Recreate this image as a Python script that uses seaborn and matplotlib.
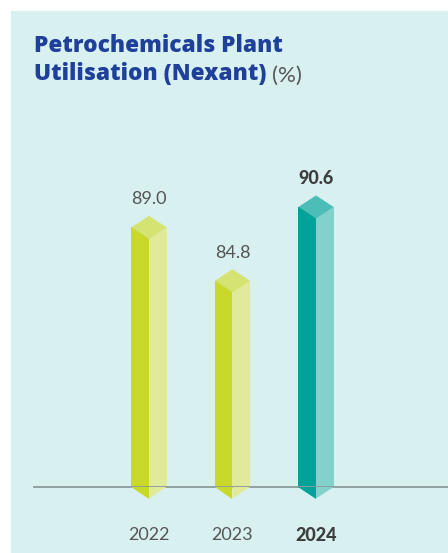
import pandas as pd
import matplotlib
matplotlib.use("Agg")
import matplotlib.pyplot as plt
from matplotlib.patches import Polygon, Rectangle
import seaborn as sns

# Chart data
years = ["2022", "2023", "2024"]
utilisation = [89.0, 84.8, 90.6]
highlight_year = "2024"

# Colours
PANEL_BG = "#d9f0f0"
TITLE_BLUE = "#1e409b"
TEXT_GREY = "#555555"
TEXT_DARK = "#3d3d3d"
LIME = {"left": "#c8d92b", "right": "#e0ea9a", "cap": "#d5e373"}
TEAL = {"left": "#00a29a", "right": "#82d1cd", "cap": "#4dbdb8"}

W, H, DPI = 448, 553, 100

sns.set_theme(style="white")
plt.rcParams["font.family"] = ["Lato", "DejaVu Sans"]

fig = plt.figure(figsize=(W / DPI, H / DPI), dpi=DPI, facecolor="white")
fig.patches.append(Rectangle((11 / W, 0), 1 - 11 / W, 1 - 11 / H,
                             transform=fig.transFigure, facecolor=PANEL_BG,
                             edgecolor="none", zorder=-5))

# axes: baseline at y=487px, left edge at x=34px
ax = fig.add_axes([34 / W, 1 - 487 / H, 1 - 34 / W, (487 - 100) / H])
ax.set_facecolor("none")

# long table: each year drawn as two faces (left dark, right light)
df = pd.DataFrame({
    "year": years * 2,
    "face": ["left"] * len(years) + ["right"] * len(years),
    "value": utilisation * 2,
})

sns.barplot(data=df, x="year", y="value", hue="face", hue_order=["left", "right"],
            order=years, dodge=True, width=0.42, errorbar=None, legend=False,
            palette=["#c8d92b", "#e0ea9a"], linewidth=0, ax=ax)

ax.set_xlim(-1.377, 3.581)
ax.set_ylim(68.6, 99.0)

# pixel -> data conversion for the isometric cap depth
px_per_unit = ax.transData.transform((0, 1))[1] - ax.transData.transform((0, 0))[1]
dh = 11.5 / px_per_unit

faces = {}
for p in list(ax.patches):
    centre = p.get_x() + p.get_width() / 2
    idx = int(round(centre))
    face = "left" if centre < idx else "right"
    pal = TEAL if years[idx] == highlight_year else LIME
    p.set_facecolor(pal[face])
    p.set_edgecolor("none")
    faces[(idx, face)] = p

base = ax.get_ylim()[0]
for idx, year in enumerate(years):
    pal = TEAL if year == highlight_year else LIME
    lp, rp = faces[(idx, "left")], faces[(idx, "right")]
    xl = lp.get_x()
    xc = lp.get_x() + lp.get_width()
    xr = rp.get_x() + rp.get_width()
    top = lp.get_height()
    # top cap
    ax.add_patch(Polygon([(xl, top), (xc, top + dh), (xr, top), (xc, top - dh)],
                         closed=True, facecolor=pal["cap"], edgecolor="none", zorder=3))
    # pointed bottom below the baseline
    ax.add_patch(Polygon([(xl, base), (xc, base), (xc, base - dh)], closed=True,
                         facecolor=pal["left"], edgecolor="none", zorder=3, clip_on=False))
    ax.add_patch(Polygon([(xc, base), (xr, base), (xc, base - dh)], closed=True,
                         facecolor=pal["right"], edgecolor="none", zorder=3, clip_on=False))
    bold = year == highlight_year
    ax.annotate(f"{utilisation[idx]:.1f}", xy=(xc, top), xytext=(0, 16.5),
                textcoords="offset points", ha="center", va="baseline",
                fontsize=13, fontweight="black" if bold else "normal",
                color=TEXT_DARK if bold else TEXT_GREY, zorder=4)

# axis styling
for side in ["top", "right", "left"]:
    ax.spines[side].set_visible(False)
ax.spines["bottom"].set_color("#8a9b9b")
ax.spines["bottom"].set_linewidth(1.3)
ax.set_yticks([])
ax.set_xlabel("")
ax.set_ylabel("")
ax.tick_params(axis="x", length=0, pad=28.5, labelsize=13, labelcolor=TEXT_GREY)
for lab in ax.get_xticklabels():
    if lab.get_text() == highlight_year:
        lab.set_fontweight("black")
        lab.set_color(TEXT_DARK)

# title
title_font = ["Open Sans", "DejaVu Sans"]
fig.text(34 / W, 1 - 52 / H, "Petrochemicals Plant", fontsize=16.3, family=title_font,
         fontweight="heavy", color=TITLE_BLUE, va="baseline", ha="left")
t2 = fig.text(34 / W, 1 - 80 / H, "Utilisation (Nexant)", fontsize=16.3, family=title_font,
              fontweight="heavy", color=TITLE_BLUE, va="baseline", ha="left")
ax.annotate("(%)", xy=(1, 0), xycoords=t2, xytext=(4, 0), textcoords="offset points",
            fontsize=16, color=TEXT_GREY, va="bottom", ha="left",
            annotation_clip=False)

fig.savefig("out.png", dpi=DPI)
plt.close(fig)
